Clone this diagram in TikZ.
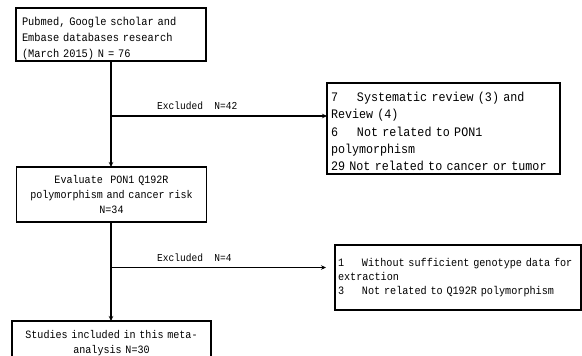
\documentclass[tikz,border=0pt]{standalone}
\usepackage{fontspec}
\setmainfont{Liberation Mono}[FakeStretch=0.9]
\usetikzlibrary{arrows.meta}
\newcommand{\numcol}[2]{\makebox[#1][l]{#2}}
\tikzset{
  box/.style={draw, line width=1.3pt, rectangle, inner ysep=0pt, outer sep=0pt},
  conn/.style={line width=1.3pt},
  arr/.style={conn, -{Stealth[length=5pt,width=4.5pt]}},
  lbl/.style={anchor=west, inner sep=0pt, font=\fontsize{10.6}{12}\selectfont}
}
\begin{document}
\begin{tikzpicture}[x=1pt,y=-1pt]
\useasboundingbox (0,0) rectangle (582,356);
\clip (0,0) rectangle (582,356);
\node[box, minimum width=190pt, minimum height=53pt, text width=178pt, align=left, inner xsep=6pt,
  font=\fontsize{11.5}{16.3}\selectfont] (b1) at (111,34.5)
  {\rule{0pt}{16pt}Pubmed, Google scholar and\\Embase databases research\\(March 2015) N = 76};
\node[box, minimum width=190pt, minimum height=55pt, text width=184pt, align=center, inner xsep=3pt,
  font=\fontsize{11.2}{15}\selectfont] (b2) at (111.5,194.5)
  {Evaluate~~PON1 Q192R\\polymorphism and cancer risk\\N=34};
\node[box, minimum width=233pt, minimum height=91pt, text width=225pt, align=left, inner xsep=4pt,
  font=\fontsize{13}{17.3}\selectfont] (b3) at (443.5,128.5)
  {\rule{0pt}{15.5pt}\numcol{26pt}{7}Systematic review (3) and\\Review (4)\\\numcol{26pt}{6}Not related to PON1\\polymorphism\\29 Not related to cancer or tumor};
\node[box, minimum width=246pt, minimum height=65pt, text width=240pt, align=left, inner xsep=3pt,
  font=\fontsize{11.3}{13.6}\selectfont] (b4) at (458,277.5)
  {\numcol{24pt}{1}Without sufficient genotype data for\\extraction\\\numcol{24pt}{3}Not related to Q192R polymorphism};
\node[box, minimum width=199pt, minimum height=44pt, text width=193pt, align=center, inner xsep=3pt,
  anchor=north, font=\fontsize{11.2}{14.5}\selectfont, text depth=17pt] (b5) at (111.5,321)
  {Studies included in this meta-\\analysis N=30};
\coordinate (j1) at (111,116);
\coordinate (j2) at (111,267.5);
\draw[arr] (b1.south -| j1) -- (b2.north -| j1);
\draw[arr] (j1) -- (j1 -| b3.west);
\draw[arr] (b2.south -| j2) -- (b5.north -| j2);
\draw[arr] (j2) -- ([xshift=-9pt]j2 -| b4.west);
\node[lbl] (e1) at (157,106) {Excluded~~N=42};
\node[lbl] (e2) at (157,258) {Excluded~~N=4};
\end{tikzpicture}
\end{document}
